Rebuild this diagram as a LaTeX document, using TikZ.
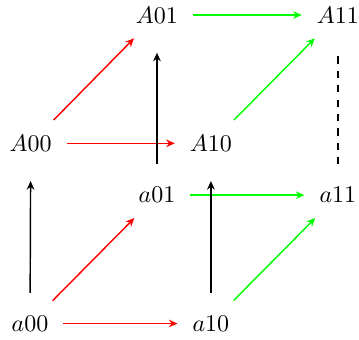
\documentclass[tikz,border=0pt]{standalone}
\usepackage{amsmath}
\usepackage{amssymb}
\usetikzlibrary{arrows.meta}

\begin{document}
\begin{tikzpicture}[>={Stealth[length=3.6pt,width=3.2pt]}, line width=0.6pt]
\useasboundingbox (0,0) rectangle (5.26,4.97);
\begin{scope}[every node/.style={inner sep=6pt}]
\node (a00) at (0.44,0.23) {$a00$};
\node (a10) at (3.09,0.23) {$a10$};
\node (a01) at (2.30,2.11) {$a01$};
\node (a11) at (4.95,2.11) {$a11$};
\node (A00) at (0.45,2.87) {$A00$};
\node (A10) at (3.09,2.87) {$A10$};
\node (A01) at (2.30,4.75) {$A01$};
\node (A11) at (4.95,4.75) {$A11$};
\end{scope}
\draw [->, red] (a00) edge (a10);
\draw [->, red] (a00) edge (a01);
\draw [->, red] (A00) edge (A10);
\draw [->, red] (A00) edge (A01);
\draw [->, green] (a01) edge (a11);
\draw [->, green] (a10) edge (a11);
\draw [->, green] (A01) edge (A11);
\draw [->, green] (A10) edge (A11);
\draw [->, shorten <=3.3pt, shorten >=6pt] (a00) edge (A00);
\draw [->, shorten <=3.3pt, shorten >=6pt] (a10) edge (A10);
\draw [->, shorten <=3.3pt, shorten >=6pt] (a01) edge (A01);
\draw [dashed, shorten <=3.3pt, shorten >=6pt] (a11) edge (A11);
\end{tikzpicture}
\end{document}
